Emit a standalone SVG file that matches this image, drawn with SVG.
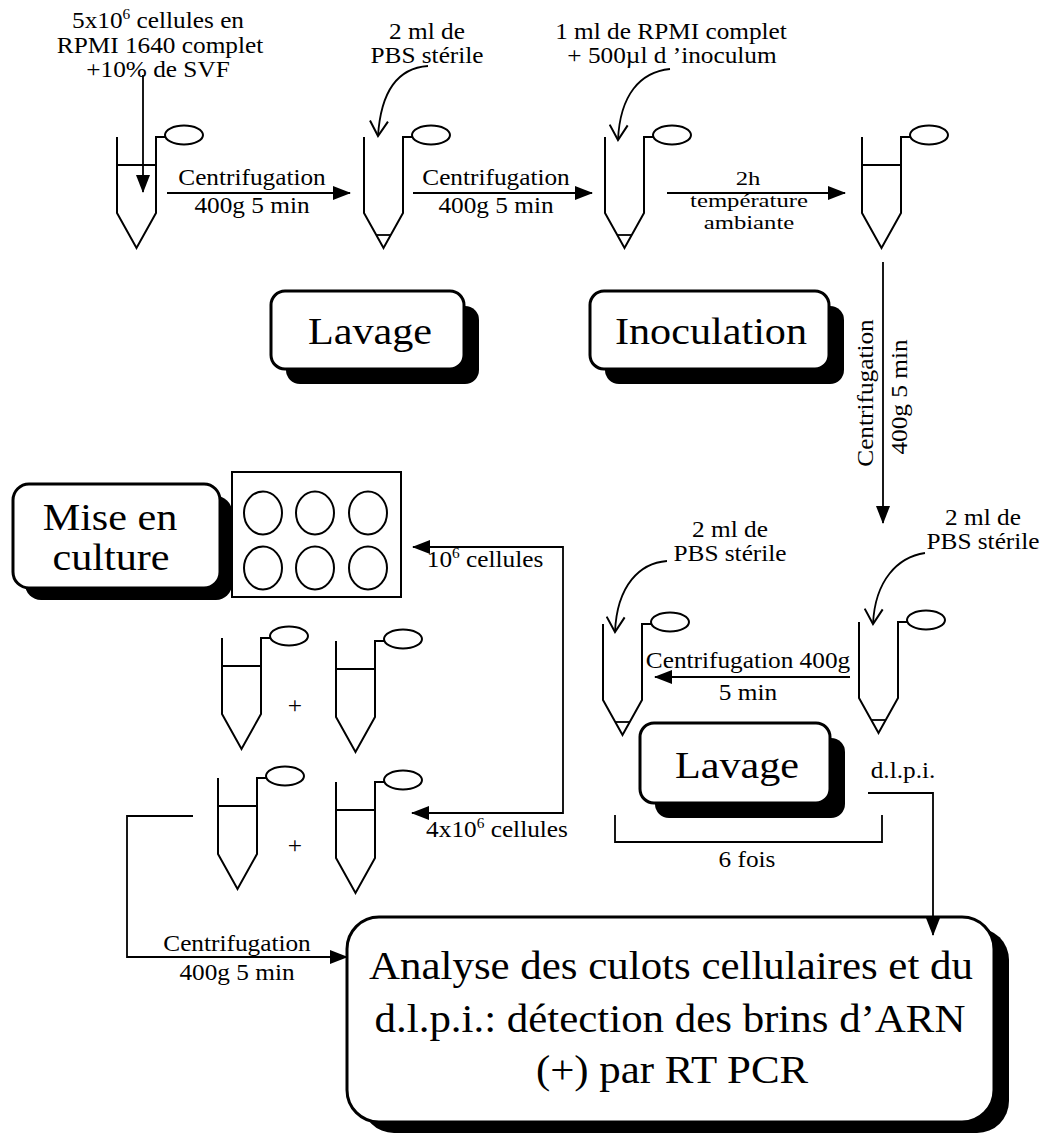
<svg xmlns="http://www.w3.org/2000/svg" width="1045" height="1135" viewBox="0 0 1045 1135">
<defs>
<style>
text{font-family:"Liberation Serif","Times New Roman",serif;fill:#000;text-anchor:middle}
.s{font-size:23px}
.t{font-size:19px}
.b{font-size:37px}
.c{font-size:39px}
.box{fill:#fff;stroke:#000;stroke-width:3}
.shadow{fill:#000;stroke:none}
.plate{fill:#fff;stroke:#000;stroke-width:2}
.well{fill:none;stroke:#000;stroke-width:2}
.conn path{fill:none;stroke:#000;stroke-width:1.8}
</style>
<marker id="ah" viewBox="0 0 18 14" refX="17" refY="7" markerWidth="18" markerHeight="14" markerUnits="userSpaceOnUse" orient="auto-start-reverse"><path d="M0,0 L18,7 L0,14 z" fill="#000"/></marker>
<marker id="oh" viewBox="0 0 20 20" refX="18" refY="10" markerWidth="20" markerHeight="20" markerUnits="userSpaceOnUse" orient="auto"><path d="M3,1 L18,10 L3,19" fill="none" stroke="#000" stroke-width="2"/></marker>
<g id="tb"><path d="M0,0 V76 L19.5,111 L39,76 V0 H48" fill="none" stroke="#000" stroke-width="2"/><ellipse cx="67" cy="-2" rx="19" ry="9.5" fill="#fff" stroke="#000" stroke-width="2"/></g>
<path id="liq" d="M0,28 H39" fill="none" stroke="#000" stroke-width="2"/>
<path id="pel" d="M12.3,98 H26.7" fill="none" stroke="#000" stroke-width="1.8"/>
</defs>
<rect width="1045" height="1135" fill="#fff"/>

<g id="input-label">
<text class="s" transform="translate(158,28) scale(1.1,1)">5x10<tspan font-size="14" dy="-9">6</tspan><tspan dy="9"> cellules en</tspan></text>
<text class="s" transform="translate(160,53) scale(1.1,1)">RPMI 1640 complet</text>
<text class="s" transform="translate(158,77) scale(1.1,1)">+10% de SVF</text>
</g>
<g id="pbs-label-1">
<text class="s" transform="translate(427,39) scale(1.1,1)">2 ml de</text>
<text class="s" transform="translate(427,63) scale(1.1,1)">PBS stérile</text>
</g>
<g id="rpmi-label">
<text class="s" transform="translate(671,39) scale(1.1,1)">1 ml de RPMI complet</text>
<text class="s" transform="translate(672,63) scale(1.1,1)">+ 500µl d ’inoculum</text>
</g>

<g id="tube1"><use href="#tb" x="117" y="137"/><use href="#liq" x="117" y="137"/></g>
<g id="tube2"><use href="#tb" x="364" y="137"/><use href="#pel" x="364" y="137"/></g>
<g id="tube3"><use href="#tb" x="605" y="137"/><use href="#pel" x="605" y="137"/></g>
<g id="tube4"><use href="#tb" x="862" y="137"/><use href="#liq" x="862" y="137"/></g>

<g id="edge-labels">
<text class="s" transform="translate(252,185) scale(1.1,1)">Centrifugation</text>
<text class="s" transform="translate(252,213) scale(1.1,1)">400g 5 min</text>
<text class="s" transform="translate(496,185) scale(1.1,1)">Centrifugation</text>
<text class="s" transform="translate(496,213) scale(1.1,1)">400g 5 min</text>
<text class="t" transform="translate(748,185) scale(1.3,1)">2h</text>
<text class="t" transform="translate(749,207) scale(1.3,1)">température</text>
<text class="t" transform="translate(749,229) scale(1.3,1)">ambiante</text>
<text class="s" transform="translate(873,393) rotate(-90) scale(1.1,1)">Centrifugation</text>
<text class="s" transform="translate(907,397) rotate(-90) scale(1.1,1)">400g 5 min</text>
<text class="s" transform="translate(748,668) scale(1.1,1)">Centrifugation 400g</text>
<text class="s" transform="translate(748,700) scale(1.1,1)">5 min</text>
<text class="s" transform="translate(903,778) scale(1.1,1)">d.l.p.i.</text>
<text class="s" transform="translate(747,867) scale(1.1,1)">6 fois</text>
<text class="s" transform="translate(485,567) scale(1.1,1)">10<tspan font-size="14" dy="-9">6</tspan><tspan dy="9"> cellules</tspan></text>
<text class="s" transform="translate(497,837) scale(1.1,1)">4x10<tspan font-size="14" dy="-9">6</tspan><tspan dy="9"> cellules</tspan></text>
<text class="s" transform="translate(237,951) scale(1.1,1)">Centrifugation</text>
<text class="s" transform="translate(237,980) scale(1.1,1)">400g 5 min</text>
</g>

<g id="box-lavage-1">
<rect class="shadow" x="286" y="306" width="193" height="78" rx="14"/>
<rect class="box" x="271" y="291" width="193" height="78" rx="14"/>
<text class="b" transform="translate(370,344) scale(1.14,1)">Lavage</text>
</g>
<g id="box-inoculation">
<rect class="shadow" x="605" y="306" width="239" height="78" rx="14"/>
<rect class="box" x="590" y="291" width="239" height="78" rx="14"/>
<text class="b" transform="translate(711,344) scale(1.14,1)">Inoculation</text>
</g>

<g id="box-mise">
<rect class="shadow" x="25" y="496" width="207" height="104" rx="16"/>
<rect class="box" x="13" y="484" width="207" height="104" rx="16"/>
<text class="b" transform="translate(110,530) scale(1.14,1)">Mise en</text>
<text class="b" transform="translate(111,570) scale(1.14,1)">culture</text>
</g>
<g id="plate">
<rect class="plate" x="232" y="472" width="169" height="125"/>
<ellipse class="well" cx="263" cy="513" rx="19" ry="21.5"/>
<ellipse class="well" cx="315" cy="513" rx="19" ry="21.5"/>
<ellipse class="well" cx="368" cy="513" rx="19" ry="21.5"/>
<ellipse class="well" cx="263" cy="568" rx="19" ry="21.5"/>
<ellipse class="well" cx="315" cy="568" rx="19" ry="21.5"/>
<ellipse class="well" cx="368" cy="568" rx="19" ry="21.5"/>
</g>

<g id="tube-a"><use href="#tb" x="222" y="638"/><use href="#liq" x="222" y="638"/></g>
<g id="tube-b"><use href="#tb" x="336" y="641"/><use href="#liq" x="336" y="641"/></g>
<g id="tube-c"><use href="#tb" x="218" y="778"/><use href="#liq" x="218" y="778"/></g>
<g id="tube-d"><use href="#tb" x="336" y="782"/><use href="#liq" x="336" y="782"/></g>
<g id="plus-1"><text class="s" transform="translate(295,713) scale(1.1,1)">+</text></g>
<g id="plus-2"><text class="s" transform="translate(295,853) scale(1.1,1)">+</text></g>

<g id="pbs-label-2">
<text class="s" transform="translate(730,537) scale(1.1,1)">2 ml de</text>
<text class="s" transform="translate(730,561) scale(1.1,1)">PBS stérile</text>
</g>
<g id="pbs-label-3">
<text class="s" transform="translate(983,525) scale(1.1,1)">2 ml de</text>
<text class="s" transform="translate(983,549) scale(1.1,1)">PBS stérile</text>
</g>
<g id="tube-l5"><use href="#tb" x="603" y="624"/><use href="#pel" x="603" y="624"/></g>
<g id="tube-r5"><use href="#tb" x="859" y="622"/><use href="#pel" x="859" y="622"/></g>

<g id="box-lavage-2">
<rect class="shadow" x="655" y="738" width="190" height="80" rx="14"/>
<rect class="box" x="640" y="723" width="190" height="80" rx="14"/>
<text class="b" transform="translate(737,778) scale(1.14,1)">Lavage</text>
</g>

<g id="box-analyse">
<rect class="shadow" x="362" y="928" width="647" height="205" rx="32"/>
<rect class="box" x="347" y="917" width="647" height="205" rx="32"/>
<text class="c" transform="translate(671,979) scale(1.1,1)">Analyse des culots cellulaires et du</text>
<text class="c" transform="translate(670,1032) scale(1.1,1)">d.l.p.i.: détection des brins d’ARN</text>
<text class="c" transform="translate(672,1083) scale(1.1,1)">(+) par RT PCR</text>
</g>

<g id="connectors" class="conn">
<path id="c-in-t1" d="M143,75 V192" marker-end="url(#ah)"/>
<path id="c-t1-t2" d="M167,193 H350" marker-end="url(#ah)"/>
<path id="c-t2-t3" d="M413,193 H592" marker-end="url(#ah)"/>
<path id="c-t3-t4" d="M667,193 H845" marker-end="url(#ah)"/>
<path id="c-pbs1" d="M428,66 C398,68 381,90 378,136" marker-end="url(#oh)"/>
<path id="c-rpmi" d="M670,69 C640,72 620,95 618,140" marker-end="url(#oh)"/>
<path id="c-t4-r5" d="M883,262 V523" marker-end="url(#ah)"/>
<path id="c-pbs2" d="M667,561 C640,563 617,585 615,632" marker-end="url(#oh)"/>
<path id="c-pbs3" d="M925,553 C898,557 875,580 873,624" marker-end="url(#oh)"/>
<path id="c-r5-l5" d="M850,677 H655" marker-end="url(#ah)"/>
<path id="c-6fois" d="M615,815 V842 H882 V815"/>
<path id="c-dlpi" d="M868,793 H933 V935" marker-end="url(#ah)"/>
<path id="c-split" d="M413,547 H563 V813 H412" marker-start="url(#ah)" marker-end="url(#ah)"/>
<path id="c-pellets" d="M193,816 H127 V957 H347" marker-end="url(#ah)"/>
</g>
</svg>
